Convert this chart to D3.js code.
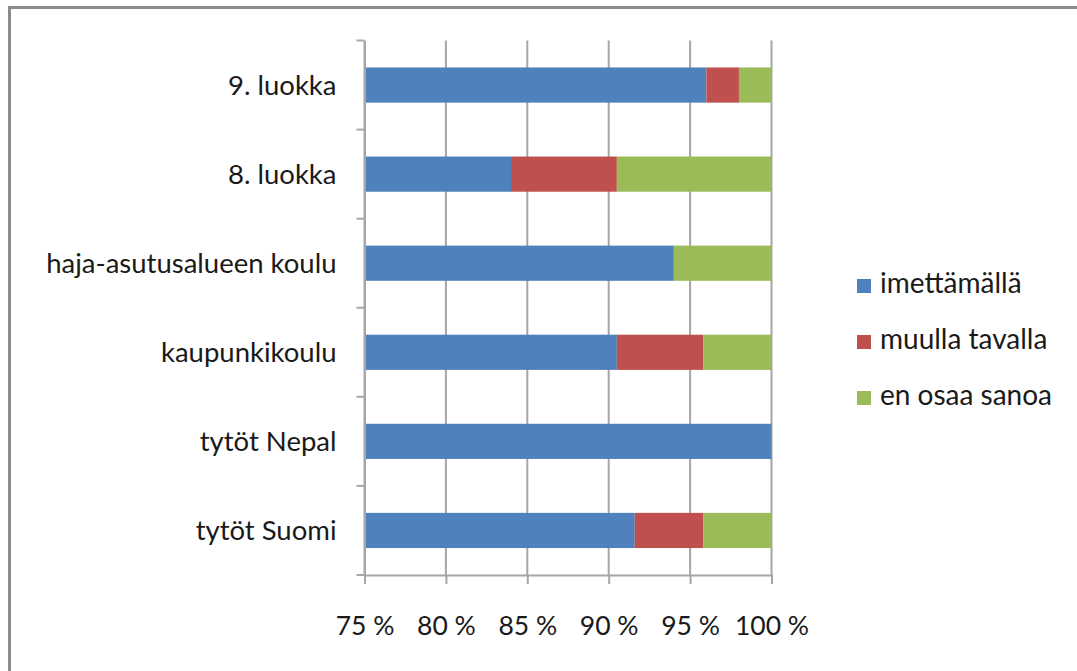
<!DOCTYPE html>
<html>
<head>
<meta charset="utf-8">
<script src="https://cdn.jsdelivr.net/npm/d3@7"></script>
<style>
  html, body { margin: 0; padding: 0; background: #fff; }
  svg { display: block; }
  text { font-family: Lato, "Open Sans", sans-serif; fill: #1a1a1a; }
</style>
</head>
<body>
<svg id="chart" width="1077" height="671"></svg>
<script>
const categories = ["9. luokka", "8. luokka", "haja-asutusalueen koulu", "kaupunkikoulu", "tytöt Nepal", "tytöt Suomi"];
const seriesNames = ["imettämällä", "muulla tavalla", "en osaa sanoa"];
const imettamalla = [96, 84, 94, 90.5, 100, 91.6];
const muullaTavalla = [2, 6.5, 0, 5.3, 0, 4.2];
const enOsaaSanoa = [2, 9.5, 6, 4.2, 0, 4.2];
const tickValues = [75, 80, 85, 90, 95, 100];
const colors = ["#4F81BD", "#C0504D", "#9BBB59"];

(function () {
const svg = d3.select("#chart");

// frame (top and left edges visible)
svg.append("rect").attr("x", 9.5).attr("y", 7.5).attr("width", 1200).attr("height", 800)
  .attr("fill", "none").attr("stroke", "#8c8c8c").attr("stroke-width", 3);

const pLeft = 364.5, pRight = 771.5, pTop = 40.5, pBottom = 575;
const x = d3.scaleLinear().domain([75, 100]).range([pLeft, pRight]);
const y = d3.scaleBand().domain(categories).range([pTop, pBottom]).padding(0);

const g = svg.append("g");

// gridlines
g.selectAll("line.grid").data(tickValues).join("line")
  .attr("x1", d => x(d)).attr("x2", d => x(d))
  .attr("y1", pTop).attr("y2", pBottom)
  .attr("stroke", "#a6a6a6").attr("stroke-width", 2);

// stacked data
const rows = categories.map((c, i) => ({ cat: c, v: [imettamalla[i], muullaTavalla[i], enOsaaSanoa[i]] }));
const barH = y.bandwidth() * 0.395;

rows.forEach(r => {
  let acc = 0;
  r.v.forEach((val, si) => {
    const s = acc, e = acc + val;
    acc = e;
    if (val <= 0) return;
    const x0 = x(Math.max(75, s)), x1 = x(Math.min(100, e));
    if (x1 <= x0) return;
    g.append("rect")
      .attr("x", x0).attr("width", x1 - x0)
      .attr("y", y(r.cat) + (y.bandwidth() - barH) / 2).attr("height", barH)
      .attr("fill", colors[si]);
  });
});

// y axis
const yAxis = d3.axisLeft(y).tickSize(0).tickPadding(28);
const ya = svg.append("g").attr("transform", `translate(${pLeft},0)`).call(yAxis);
ya.select(".domain").attr("stroke", "#a6a6a6").attr("stroke-width", 2);
ya.selectAll("text").attr("font-size", 27.5).attr("dy", "0.35em").style("font-family", "Lato, sans-serif").attr("fill", "#1a1a1a");
// category boundary ticks
svg.selectAll("line.ctick").data(d3.range(categories.length + 1)).join("line")
  .attr("x1", pLeft - 8).attr("x2", pLeft)
  .attr("y1", i => pTop + i * y.step()).attr("y2", i => pTop + i * y.step())
  .attr("stroke", "#a6a6a6").attr("stroke-width", 2);

// x axis
const xAxis = d3.axisBottom(x).tickValues(tickValues).tickSize(9).tickPadding(32)
  .tickFormat(d => d + " %");
const xa = svg.append("g").attr("transform", `translate(0,${pBottom})`).call(xAxis);
xa.select(".domain").attr("stroke", "#a6a6a6").attr("stroke-width", 2);
xa.selectAll(".tick line").attr("stroke", "#a6a6a6").attr("stroke-width", 2);
xa.selectAll("text").attr("font-size", 26.5).style("font-family", "Lato, sans-serif").attr("fill", "#1a1a1a");

// legend
const lg = svg.append("g");
seriesNames.forEach((n, i) => {
  const yy = 293 + i * 56;
  lg.append("rect").attr("x", 857).attr("y", yy - 14).attr("width", 14).attr("height", 14).attr("fill", colors[i]);
  lg.append("text").attr("x", 880).attr("y", yy).attr("font-size", 28).text(n);
});
})();
</script>
</body>
</html>
